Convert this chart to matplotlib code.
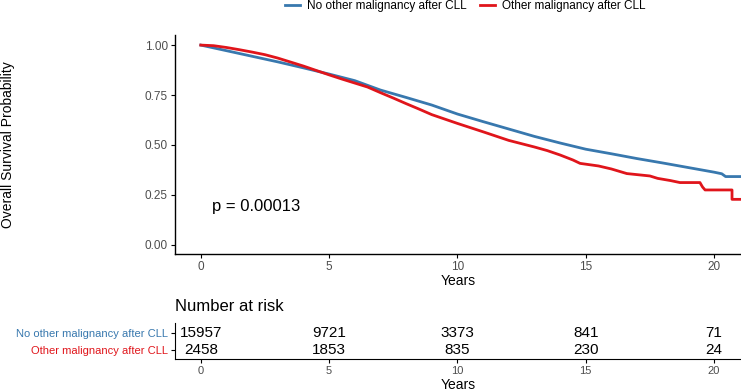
import matplotlib
matplotlib.use('Agg')
import matplotlib.pyplot as plt

plt.rcParams['font.family'] = ['Liberation Sans', 'DejaVu Sans']

# Kaplan-Meier curves
groups = ['No other malignancy after CLL', 'Other malignancy after CLL']
colors = ['#3878AE', '#E0151B']

t_none = [0, 1, 2, 3, 4, 5, 6, 7, 8, 9, 10, 11, 12, 13, 14, 15, 16, 17,
          18, 19, 20, 20.3, 20.45, 21.1]
s_none = [1.0, 0.972, 0.944, 0.916, 0.886, 0.855, 0.822, 0.775, 0.738, 0.70,
          0.655, 0.617, 0.58, 0.543, 0.51, 0.479, 0.456, 0.432, 0.41, 0.387,
          0.364, 0.356, 0.342, 0.342]

t_other = [0, 0.5, 1, 1.5, 2, 2.5, 3, 3.5, 4, 4.5, 5, 5.5, 6, 6.5, 7, 7.5,
           8, 8.5, 9, 9.5, 10, 11, 12, 13, 13.5, 14, 14.5, 14.78, 15.5, 16,
           16.6, 17.5, 17.8, 18.3, 18.67, 19.45, 19.55, 19.65, 20.7, 20.7,
           21.1]
s_other = [1.0, 0.997, 0.988, 0.977, 0.965, 0.952, 0.935, 0.915, 0.895,
           0.873, 0.851, 0.83, 0.81, 0.79, 0.762, 0.735, 0.707, 0.68, 0.652,
           0.63, 0.608, 0.566, 0.523, 0.49, 0.472, 0.45, 0.425, 0.408, 0.395,
           0.38, 0.357, 0.345, 0.333, 0.322, 0.312, 0.312, 0.29, 0.275, 0.275,
           0.228, 0.228]

risk_times = [0, 5, 10, 15, 20]
risk_none = [15957, 9721, 3373, 841, 71]
risk_other = [2458, 1853, 835, 230, 24]

pval_text = 'p = 0.00013'
xticks = [0, 5, 10, 15, 20]
yticks = [0.0, 0.25, 0.5, 0.75, 1.0]

tick_gray = '#4D4D4D'

fig = plt.figure(figsize=(7.41, 3.9), dpi=100)
ax = fig.add_axes([0.236, 0.349, 0.764, 0.561])
ax2 = fig.add_axes([0.236, 0.079, 0.764, 0.093])

ax.plot(t_none, s_none, color=colors[0], lw=2.0, label=groups[0])
ax.plot(t_other, s_other, color=colors[1], lw=2.0, label=groups[1])

ax.set_xlim(-1.01, 21.05)
ax.set_ylim(-0.045, 1.05)
ax.set_xticks(xticks)
ax.set_yticks(yticks)
ax.set_yticklabels(['%.2f' % v for v in yticks])
for s in ['top', 'right']:
    ax.spines[s].set_visible(False)
for s in ['left', 'bottom']:
    ax.spines[s].set_linewidth(1.0)
ax.tick_params(length=3, width=0.8, labelsize=8.5, labelcolor=tick_gray,
               pad=2)
ax.set_xlabel('Years', fontsize=10, labelpad=1)
ax.text(0.43, 0.19, pval_text, fontsize=12, va='center', ha='left')

fig.text(8 / 741, 0.628, 'Overall Survival Probability', rotation=90,
         fontsize=10, va='center', ha='center')

fig.legend(loc='center', bbox_to_anchor=(0.628, 0.984), ncol=2,
           frameon=False, fontsize=8.5, handlelength=1.2, handletextpad=0.6,
           columnspacing=1.2)

# number at risk table
rows = [2, 1]
for r, vals in zip(rows, [risk_none, risk_other]):
    for t, v in zip(risk_times, vals):
        ax2.text(t, r, str(v), ha='center', va='center', fontsize=11)
ax2.set_xlim(-1.01, 21.05)
ax2.set_ylim(0.47, 2.59)
ax2.set_xticks(xticks)
ax2.set_yticks(rows)
ax2.set_yticklabels(groups, fontsize=8)
for lab, c in zip(ax2.get_yticklabels(), colors):
    lab.set_color(c)
for s in ['top', 'right']:
    ax2.spines[s].set_visible(False)
ax2.tick_params(length=3, width=0.8, pad=2)
ax2.tick_params(axis='x', labelsize=8, labelcolor=tick_gray)
ax2.set_xlabel('Years', fontsize=10, labelpad=1)
ax2.text(0, 1.44, 'Number at risk', transform=ax2.transAxes, fontsize=12,
         ha='left', va='center')

fig.savefig('out.png', dpi=100)
